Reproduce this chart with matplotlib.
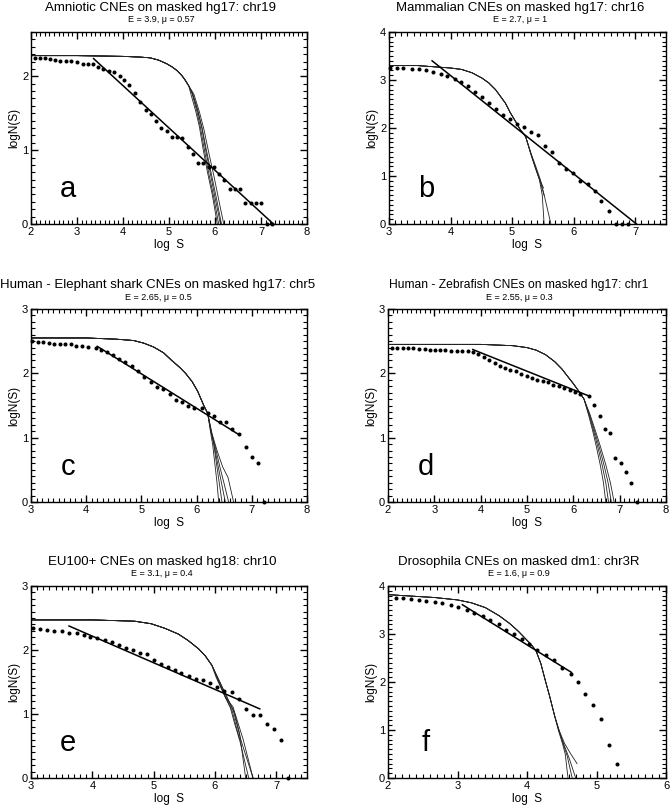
import matplotlib
matplotlib.use('Agg')
import matplotlib.pyplot as plt
from matplotlib.ticker import MultipleLocator

plt.rcParams['font.family'] = ['Liberation Sans', 'DejaVu Sans']

# ---------------- panel a ----------------
a_title = 'Amniotic CNEs on masked hg17: chr19'
a_sub = 'E = 3.9, μ = 0.57'
a_dot_x = [2.09, 2.20, 2.31, 2.42, 2.53, 2.64, 2.76, 2.88, 3.00, 3.12, 3.24, 3.35, 3.46, 3.56, 3.69,
           3.81, 3.93, 4.03, 4.14, 4.26, 4.37, 4.49, 4.60, 4.72, 4.83, 4.95, 5.06, 5.17, 5.28, 5.41,
           5.52, 5.64, 5.74, 5.86, 5.97, 6.08, 6.20, 6.32, 6.43, 6.54, 6.66, 6.78, 6.90, 7.01, 7.13, 7.24]
a_dot_y = [2.25, 2.25, 2.25, 2.24, 2.22, 2.21, 2.21, 2.21, 2.19, 2.17, 2.16, 2.16, 2.12, 2.10, 2.07,
           2.06, 2.01, 1.95, 1.88, 1.78, 1.65, 1.54, 1.49, 1.40, 1.30, 1.26, 1.18, 1.18, 1.17, 1.04,
           0.95, 0.83, 0.83, 0.77, 0.77, 0.68, 0.59, 0.47, 0.47, 0.47, 0.29, 0.29, 0.29, 0.29, 0.0, 0.0]
a_fit_x = [3.36, 7.27]
a_fit_y = [2.24, 0.0]
a_head_x = [2.0, 3.0, 4.0, 4.38, 4.59, 4.77, 4.95, 5.06, 5.17, 5.28, 5.35, 5.43]
a_head_y = [2.28, 2.28, 2.27, 2.26, 2.25, 2.22, 2.17, 2.13, 2.08, 2.01, 1.95, 1.87]
a_tails = [
    ([5.50, 5.60, 5.68, 5.77, 5.86, 5.97, 6.08], [1.77, 1.54, 1.32, 1.00, 0.70, 0.37, 0.0]),
    ([5.52, 5.63, 5.72, 5.82, 5.92, 6.03, 6.14], [1.75, 1.52, 1.30, 0.98, 0.68, 0.35, 0.0]),
    ([5.48, 5.58, 5.66, 5.74, 5.83, 5.94, 6.05], [1.75, 1.53, 1.32, 1.02, 0.72, 0.40, 0.0]),
    ([5.54, 5.66, 5.76, 5.87, 5.98, 6.08, 6.19], [1.76, 1.52, 1.28, 0.95, 0.64, 0.33, 0.0]),
    ([5.51, 5.62, 5.71, 5.80, 5.90, 6.00, 6.12], [1.77, 1.55, 1.31, 0.99, 0.68, 0.36, 0.0]),
]

# ---------------- panel b ----------------
b_title = 'Mammalian CNEs on masked hg17: chr16'
b_sub = 'E = 2.7, μ = 1'
b_dot_x = [3.01, 3.13, 3.23, 3.37, 3.48, 3.60, 3.72, 3.84, 3.95, 4.07, 4.17, 4.28, 4.40, 4.51, 4.62,
           4.74, 4.85, 4.96, 5.08, 5.19, 5.31, 5.42, 5.53, 5.65, 5.76, 5.87, 5.99, 6.11, 6.23, 6.34,
           6.45, 6.57, 6.68, 6.79, 6.89]
b_dot_y = [3.26, 3.26, 3.25, 3.23, 3.22, 3.20, 3.17, 3.13, 3.09, 3.03, 2.96, 2.87, 2.75, 2.64, 2.52,
           2.39, 2.27, 2.18, 2.08, 2.02, 1.92, 1.85, 1.62, 1.49, 1.27, 1.14, 1.07, 0.90, 0.84, 0.68,
           0.47, 0.28, 0.0, 0.0, 0.0]
b_fit_x = [3.70, 7.02]
b_fit_y = [3.40, 0.0]
b_head_x = [3.0, 3.47, 4.0, 4.18, 4.35, 4.51, 4.62, 4.73, 4.81, 4.89, 4.97, 5.05, 5.13, 5.22]
b_head_y = [3.30, 3.30, 3.25, 3.22, 3.15, 3.04, 2.94, 2.80, 2.66, 2.52, 2.32, 2.15, 1.97, 1.82]
b_tails = [
    ([5.31, 5.38, 5.44, 5.49, 5.52], [1.45, 1.18, 0.95, 0.60, 0.0]),
    ([5.31, 5.39, 5.46, 5.54, 5.63], [1.46, 1.18, 0.92, 0.50, 0.0]),
    ([5.31, 5.38, 5.45, 5.52], [1.44, 1.16, 0.90, 0.60]),
    ([5.30, 5.37, 5.44, 5.51], [1.47, 1.20, 0.95, 0.75]),
]

# ---------------- panel c ----------------
c_title = 'Human - Elephant shark CNEs on masked hg17: chr5'
c_sub = 'E = 2.65, μ = 0.5'
c_dot_x = [3.02, 3.12, 3.22, 3.32, 3.42, 3.52, 3.62, 3.72, 3.82, 3.92, 4.03, 4.17, 4.27, 4.38, 4.49,
           4.60, 4.71, 4.83, 4.94, 5.05, 5.17, 5.29, 5.40, 5.51, 5.63, 5.74, 5.85, 5.96, 6.09, 6.20,
           6.32, 6.42, 6.54, 6.65, 6.77, 6.89, 7.00, 7.11, 7.23]
c_dot_y = [2.50, 2.49, 2.48, 2.47, 2.46, 2.46, 2.45, 2.45, 2.43, 2.42, 2.41, 2.40, 2.37, 2.33, 2.29,
           2.23, 2.17, 2.11, 2.04, 1.94, 1.87, 1.78, 1.76, 1.68, 1.59, 1.56, 1.50, 1.46, 1.46, 1.39,
           1.33, 1.25, 1.24, 1.13, 1.05, 0.85, 0.70, 0.61, 0.0]
c_fit_x = [4.20, 6.78]
c_fit_y = [2.42, 1.04]
c_head_x = [3.0, 4.0, 4.56, 4.86, 5.04, 5.22, 5.40, 5.55, 5.71, 5.80, 5.92, 6.02, 6.13, 6.20]
c_head_y = [2.55, 2.55, 2.53, 2.51, 2.47, 2.41, 2.32, 2.20, 2.08, 2.00, 1.87, 1.72, 1.50, 1.38]
c_tails = [
    ([6.25, 6.29, 6.33, 6.37, 6.40], [1.10, 0.90, 0.60, 0.30, 0.0]),
    ([6.26, 6.31, 6.36, 6.41, 6.46], [1.10, 0.90, 0.60, 0.30, 0.0]),
    ([6.26, 6.32, 6.38, 6.45, 6.52], [1.10, 0.88, 0.60, 0.30, 0.0]),
    ([6.27, 6.34, 6.42, 6.50, 6.58], [1.08, 0.85, 0.55, 0.28, 0.0]),
    ([6.28, 6.37, 6.47, 6.57, 6.67], [1.06, 0.80, 0.55, 0.38, 0.0]),
]

# ---------------- panel d ----------------
d_title = 'Human - Zebrafish CNEs on masked hg17: chr1'
d_sub = 'E = 2.55, μ = 0.3'
d_dot_x = [2.09, 2.20, 2.32, 2.44, 2.55, 2.67, 2.79, 2.90, 3.01, 3.13, 3.24, 3.37, 3.48, 3.60, 3.72,
           3.83, 3.95, 4.07, 4.18, 4.30, 4.41, 4.52, 4.64, 4.76, 4.87, 4.99, 5.11, 5.22, 5.34, 5.45,
           5.57, 5.69, 5.80, 5.92, 6.04, 6.15, 6.33, 6.44, 6.58, 6.69, 6.80, 6.91, 7.02, 7.13, 7.24, 7.38]
d_dot_y = [2.40, 2.40, 2.40, 2.39, 2.39, 2.38, 2.38, 2.37, 2.37, 2.36, 2.36, 2.35, 2.35, 2.34, 2.34,
           2.33, 2.30, 2.25, 2.20, 2.16, 2.12, 2.08, 2.05, 2.03, 1.99, 1.96, 1.93, 1.90, 1.88, 1.86,
           1.82, 1.80, 1.77, 1.74, 1.71, 1.68, 1.64, 1.51, 1.34, 1.14, 1.07, 0.68, 0.60, 0.47, 0.29, 0.0]
d_fit_x = [3.83, 6.33]
d_fit_y = [2.37, 1.65]
d_head_x = [2.04, 3.0, 4.0, 4.69, 5.0, 5.2, 5.4, 5.6, 5.75, 5.88, 6.0, 6.12, 6.23]
d_head_y = [2.45, 2.45, 2.45, 2.43, 2.40, 2.36, 2.29, 2.18, 2.07, 1.95, 1.84, 1.72, 1.60]
d_tails = [
    ([6.33, 6.42, 6.50, 6.58, 6.65, 6.70], [1.35, 1.10, 0.85, 0.58, 0.30, 0.0]),
    ([6.34, 6.44, 6.53, 6.62, 6.70, 6.76], [1.35, 1.10, 0.85, 0.58, 0.30, 0.0]),
    ([6.35, 6.46, 6.56, 6.66, 6.75, 6.82], [1.36, 1.10, 0.85, 0.58, 0.30, 0.0]),
    ([6.36, 6.48, 6.59, 6.70, 6.80, 6.88], [1.36, 1.10, 0.85, 0.58, 0.30, 0.0]),
]

# ---------------- panel e ----------------
e_title = 'EU100+ CNEs on masked hg18: chr10'
e_sub = 'E = 3.1, μ = 0.4'
e_dot_x = [3.03, 3.14, 3.26, 3.38, 3.50, 3.62, 3.75, 3.87, 3.96, 4.08, 4.20, 4.32, 4.44, 4.55, 4.66,
           4.78, 4.89, 5.01, 5.12, 5.24, 5.35, 5.45, 5.58, 5.69, 5.81, 5.92, 6.03, 6.15, 6.27, 6.39,
           6.50, 6.62, 6.73, 6.84, 6.96, 7.08, 7.19]
e_dot_y = [2.34, 2.33, 2.32, 2.30, 2.29, 2.27, 2.26, 2.24, 2.21, 2.19, 2.16, 2.12, 2.08, 2.03, 2.00,
           1.96, 1.93, 1.84, 1.78, 1.74, 1.68, 1.64, 1.59, 1.55, 1.53, 1.49, 1.42, 1.36, 1.35, 1.24,
           1.08, 0.99, 0.99, 0.84, 0.77, 0.60, 0.0]
e_fit_x = [3.62, 6.73]
e_fit_y = [2.375, 1.08]
e_head_x = [3.0, 4.0, 4.69, 4.96, 5.18, 5.40, 5.56, 5.73, 5.84, 5.95]
e_head_y = [2.47, 2.47, 2.45, 2.41, 2.34, 2.25, 2.15, 2.02, 1.91, 1.76]
e_tails = [
    ([6.06, 6.17, 6.28, 6.39, 6.55], [1.52, 1.26, 1.05, 0.64, 0.0]),
    ([6.05, 6.18, 6.30, 6.42, 6.62], [1.55, 1.30, 1.05, 0.60, 0.0]),
    ([6.04, 6.15, 6.25, 6.32, 6.40], [1.55, 1.30, 1.10, 0.85, 0.60]),
    ([6.08, 6.20, 6.33, 6.46, 6.62], [1.50, 1.24, 1.00, 0.60, 0.0]),
    ([6.02, 6.16, 6.30, 6.40, 6.50], [1.57, 1.28, 1.10, 0.70, 0.0]),
]

# ---------------- panel f ----------------
f_title = 'Drosophila CNEs on masked dm1: chr3R'
f_sub = 'E = 1.6, μ = 0.9'
f_dot_x = [2.11, 2.22, 2.33, 2.44, 2.55, 2.67, 2.78, 2.90, 3.01, 3.13, 3.24, 3.36, 3.47, 3.59, 3.70,
           3.81, 3.93, 4.03, 4.14, 4.27, 4.39, 4.51, 4.63, 4.73, 4.84, 4.95, 5.07, 5.18, 5.29]
f_dot_y = [3.75, 3.74, 3.72, 3.71, 3.69, 3.67, 3.65, 3.60, 3.56, 3.51, 3.44, 3.38, 3.29, 3.20, 3.09,
           2.99, 2.89, 2.79, 2.67, 2.56, 2.45, 2.29, 2.17, 2.00, 1.74, 1.52, 1.22, 0.69, 0.30]
f_fit_x = [3.07, 4.64]
f_fit_y = [3.61, 2.20]
f_head_x = [2.0, 2.67, 3.0, 3.2, 3.4, 3.6, 3.75, 3.88, 3.98, 4.06, 4.13, 4.20, 4.26, 4.33, 4.40]
f_head_y = [3.82, 3.76, 3.71, 3.65, 3.55, 3.38, 3.22, 3.05, 2.90, 2.78, 2.65, 2.38, 2.05, 1.68, 1.28]
f_tails = [
    ([4.45, 4.51, 4.55, 4.59], [1.00, 0.72, 0.50, 0.0]),
    ([4.46, 4.52, 4.58, 4.65], [1.00, 0.72, 0.45, 0.0]),
    ([4.46, 4.53, 4.61, 4.70], [0.98, 0.70, 0.40, 0.0]),
    ([4.46, 4.54, 4.63, 4.72], [1.00, 0.72, 0.50, 0.30]),
]

panels = [
    ('a', a_title, a_sub, a_dot_x, a_dot_y, a_fit_x, a_fit_y, a_head_x, a_head_y, a_tails, (2, 8), (0, 2.6)),
    ('b', b_title, b_sub, b_dot_x, b_dot_y, b_fit_x, b_fit_y, b_head_x, b_head_y, b_tails, (3, 7.5), (0, 4)),
    ('c', c_title, c_sub, c_dot_x, c_dot_y, c_fit_x, c_fit_y, c_head_x, c_head_y, c_tails, (3, 8), (0, 3)),
    ('d', d_title, d_sub, d_dot_x, d_dot_y, d_fit_x, d_fit_y, d_head_x, d_head_y, d_tails, (2, 8), (0, 3)),
    ('e', e_title, e_sub, e_dot_x, e_dot_y, e_fit_x, e_fit_y, e_head_x, e_head_y, e_tails, (3, 7.5), (0, 3)),
    ('f', f_title, f_sub, f_dot_x, f_dot_y, f_fit_x, f_fit_y, f_head_x, f_head_y, f_tails, (2, 6), (0, 4)),
]

# axes boxes in pixels: left, top, right, bottom
boxes = [(31, 32, 307, 224), (389, 32, 666, 224),
         (31, 309, 307, 502), (388, 309, 666, 502),
         (31, 586, 307, 778), (388, 586, 666, 778)]
title_sizes = [9.5, 9.5, 9.5, 8.7, 9.5, 9.5]
title_shift = [-8, -7, -11, -8, -7, -8]  # px, titles sit a little left of the box centre

W, H = 670, 807
fig = plt.figure(figsize=(W / 100, H / 100), dpi=100)

for i, ((letter, title, sub, dx, dy, fx, fy, hx, hy, tails, xl, yl), (l, t, r, b)) in enumerate(zip(panels, boxes)):
    ax = fig.add_axes([l / W, (H - b) / H, (r - l) / W, (b - t) / H])
    # simulation curves
    for tx, ty in tails:
        ax.plot(hx + tx, hy + ty, color='#222222', lw=0.6, solid_joinstyle='round')
    # fitted power law
    ax.plot(fx, fy, color='black', lw=1.1)
    # data points
    ax.plot(dx, dy, 'o', color='black', ms=2.9, mec='none', clip_on=False)
    ax.set_xlim(*xl)
    ax.set_ylim(*yl)
    ax.xaxis.set_major_locator(MultipleLocator(1))
    ax.yaxis.set_major_locator(MultipleLocator(1))
    ax.xaxis.set_minor_locator(MultipleLocator(0.1))
    ax.yaxis.set_minor_locator(MultipleLocator(0.1))
    ax.tick_params(which='both', direction='in', top=True, right=True, labelsize=8, pad=2,
                   color='black')
    ax.tick_params(which='major', length=5, width=1.0)
    ax.tick_params(which='minor', length=3, width=0.8)
    for s in ax.spines.values():
        s.set_linewidth(1.0)
    w = r - l
    h = b - t
    ax.set_xlabel('log  S', fontsize=8.5, labelpad=1.5)
    ax.set_ylabel('logN(S)', fontsize=8.5, labelpad=1.5)
    tx0 = 0.5 + title_shift[i] / w
    ax.text(tx0, 1 + 24 / h, title, transform=ax.transAxes, ha='center', va='center',
            fontsize=title_sizes[i])
    ax.text(tx0, 1 + 12 / h, sub, transform=ax.transAxes, ha='center', va='center', fontsize=6.5)
    ax.text(0.135, 0.14, letter, transform=ax.transAxes, ha='center', va='baseline', fontsize=21)

fig.savefig('out.png', dpi=100)
